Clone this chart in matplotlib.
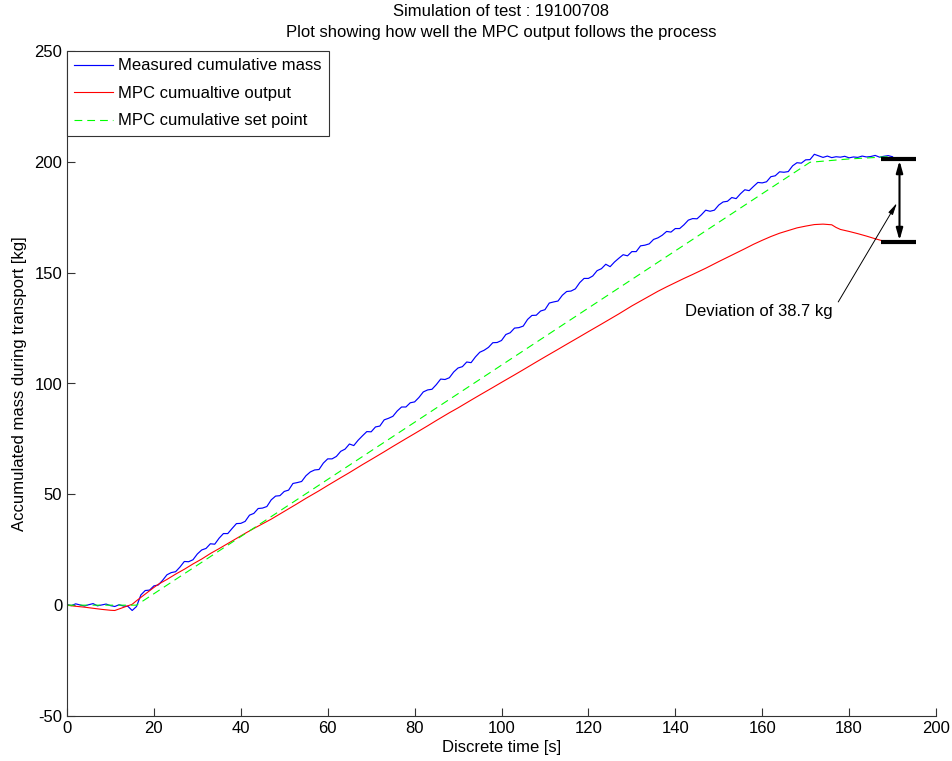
import matplotlib
matplotlib.use("Agg")
import matplotlib.pyplot as plt

plt.rcParams['font.family'] = ['Liberation Sans', 'DejaVu Sans']
plt.rcParams['axes.unicode_minus'] = False

# ---------------- data ----------------
t_meas = list(range(0, 191))
measured = [
    0.3, -0.2, 0.6, 0.1, -0.4, 0.2, 0.7, -0.3, 0.1, 0.5,
    -0.2, -0.6, 0.2, -0.4, -0.5, -2.4, -0.6, 4.6, 6.6, 6.8,
    8.7, 9.1, 11.2, 13.7, 14.7, 15.1, 17.2, 19.7, 19.6, 20.5,
    23.1, 24.9, 25.6, 27.7, 27.5, 30.2, 32.3, 32.3, 34.6, 36.8,
    36.9, 37.8, 40.6, 41.4, 43.6, 43.8, 44.5, 47.5, 49.2, 49.4,
    51.3, 51.9, 54.9, 55.3, 55.8, 58.4, 60.1, 61.0, 61.2, 64.1,
    66.0, 66.0, 67.1, 69.4, 70.4, 72.7, 72.0, 74.4, 76.4, 78.3,
    78.2, 80.4, 80.8, 83.6, 84.3, 85.2, 87.6, 89.4, 89.4, 91.3,
    91.7, 93.7, 96.2, 97.1, 97.4, 99.5, 102.0, 101.8, 102.6, 105.2,
    107.0, 107.6, 109.7, 109.4, 112.0, 114.1, 115.0, 116.3, 118.4, 118.5,
    119.4, 122.1, 122.9, 125.0, 125.2, 125.9, 128.9, 130.7, 130.8, 132.7,
    133.3, 136.3, 136.8, 137.2, 139.8, 141.5, 141.7, 142.7, 145.5, 147.4,
    147.4, 148.5, 150.9, 151.8, 153.8, 152.7, 154.8, 156.5, 158.1, 157.6,
    159.5, 159.5, 162.1, 162.4, 163.0, 165.0, 165.7, 166.9, 168.6, 168.3,
    169.9, 169.9, 171.6, 173.7, 174.4, 174.3, 176.1, 178.2, 177.7, 178.2,
    180.5, 181.9, 182.2, 183.9, 183.4, 185.6, 187.4, 187.0, 188.9, 190.7,
    190.5, 191.0, 193.3, 193.7, 195.5, 195.3, 195.6, 198.2, 199.6, 199.4,
    200.9, 201.0, 203.4, 202.7, 202.0, 202.6, 201.9, 202.3, 202.1, 202.5,
    201.8, 202.2, 202.0, 202.6, 202.2, 202.4, 202.9, 202.1, 202.5, 202.8,
    202.3,
]

t_out = [0, 2, 4, 6, 8, 10, 11, 12, 13, 14, 15, 16, 17, 18, 19, 20, 21, 23, 25,
         27, 29, 31, 33, 35, 37, 39, 41, 43, 45, 47, 50, 53, 55, 58, 60, 63, 65,
         68, 70, 73, 75, 78, 80, 83, 85, 88, 90, 93, 95, 98, 100, 103, 105, 108,
         110, 113, 115, 118, 120, 123, 125, 127, 130, 132, 134, 136, 138, 140,
         142, 144, 147, 150, 153, 156, 158, 160, 162, 164, 166, 168, 170, 172,
         174, 176, 177, 178, 180, 182, 184, 186, 188]
mpc_output = [0.0, -0.5, -0.9, -1.4, -1.9, -2.3, -2.4, -1.7, -1.0, -0.3, 0.4,
              2.0, 3.5, 5.0, 6.5, 8.0, 9.4, 11.6, 14.0, 16.2, 18.6, 20.8, 23.3,
              25.5, 27.8, 30.1, 32.4, 34.6, 36.7, 38.8, 42.3, 45.8, 48.2, 51.6,
              54.0, 57.5, 59.8, 63.4, 65.7, 69.2, 71.6, 75.1, 77.4, 80.9, 83.3,
              86.8, 89.0, 92.5, 94.8, 98.2, 100.5, 103.9, 106.2, 109.7, 112.0,
              115.4, 117.7, 121.1, 123.4, 126.8, 129.1, 131.4, 135.0, 137.2,
              139.4, 141.6, 143.6, 145.5, 147.4, 149.2, 152.0, 155.0, 157.9,
              160.8, 162.8, 164.6, 166.3, 167.8, 169.0, 170.2, 171.0, 171.7,
              171.9, 171.6, 170.4, 169.5, 168.6, 167.6, 166.5, 165.3, 164.2]

t_sp = [0, 16, 171, 180, 190]
set_point = [0.0, 0.0, 199.8, 201.3, 202.4]

bar_top = 201.3
bar_bottom = 163.8
deviation_text = "Deviation of 38.7 kg"

x_ticks = list(range(0, 201, 20))
y_ticks = list(range(-50, 251, 50))

# ---------------- figure ----------------
fig = plt.figure(figsize=(9.53, 7.61), dpi=100)
ax = fig.add_axes([67/953, 1-716/761, (936-67)/953, (716-51)/761])

ax.plot(t_meas, measured, color=(0, 0, 1), lw=0.85, label='Measured cumulative mass')
ax.plot(t_out, mpc_output, color=(1, 0, 0), lw=0.8, label='MPC cumualtive output')
ax.plot(t_sp, set_point, color=(0, 1, 0), lw=0.8, dashes=(7, 4.5),
        label='MPC cumulative set point')

ax.set_xlim(0, 200)
ax.set_ylim(-50, 250)
ax.set_xticks(x_ticks)
ax.set_yticks(y_ticks)
ax.tick_params(direction='in', length=6, width=0.8, labelsize=12, color='#333333')
for s in ['top', 'right']:
    ax.spines[s].set_visible(False)
for s in ['left', 'bottom']:
    ax.spines[s].set_color('#333333')
    ax.spines[s].set_linewidth(0.8)

ax.set_xlabel('Discrete time [s]', fontsize=12, labelpad=3)
ax.set_ylabel('Accumulated mass during transport [kg]', fontsize=12, labelpad=5)
ax.set_title('Simulation of test : 19100708\nPlot showing how well the MPC output follows the process',
             fontsize=12, pad=10, linespacing=1.5)

# deviation bars and double arrow
ax.plot([187.3, 195.4], [bar_top, bar_top], color='black', lw=3, solid_capstyle='butt')
ax.plot([187.3, 195.4], [bar_bottom, bar_bottom], color='black', lw=3, solid_capstyle='butt')
ax.annotate('', xy=(191.6, bar_top - 0.8), xytext=(191.6, bar_bottom + 0.8),
            arrowprops=dict(arrowstyle='<|-|>,head_length=0.7,head_width=0.2',
                            color='black', lw=1.5, shrinkA=0, shrinkB=0))
ax.text(159.2, 132.7, deviation_text, ha='center', va='center', fontsize=12)
ax.annotate('', xy=(191.0, 181.4), xytext=(177.5, 136.8),
            arrowprops=dict(arrowstyle='-|>,head_length=0.7,head_width=0.15',
                            color='black', lw=0.7, shrinkA=0, shrinkB=0))

leg = ax.legend(loc='upper left', bbox_to_anchor=(0, 1.0), borderaxespad=0,
                fontsize=12, handlelength=2.3, handletextpad=0.3,
                labelspacing=0.75, fancybox=False, framealpha=1,
                edgecolor='#333333', borderpad=0.45)
leg.get_frame().set_linewidth(0.8)

fig.savefig('out.png', dpi=100)
